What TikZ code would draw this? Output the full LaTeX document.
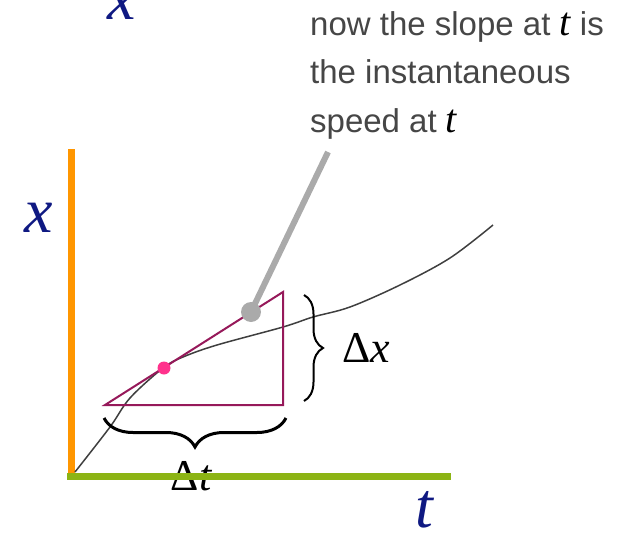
\documentclass[tikz,border=0pt]{standalone}
\usepackage{fontspec}
\setmainfont{Liberation Sans}
\newfontfamily\timesf{Liberation Serif}
\usetikzlibrary{decorations.pathreplacing}
\definecolor{axisorange}{RGB}{255,150,0}
\definecolor{axisgreen}{RGB}{140,180,20}
\definecolor{axisnavy}{RGB}{15,25,130}
\definecolor{trimag}{RGB}{150,25,90}
\definecolor{dotpink}{RGB}{255,50,140}
\definecolor{notegray}{RGB}{70,70,70}
\definecolor{stickgray}{RGB}{170,170,170}
\tikzset{axislabel/.style={color=axisnavy,font=\fontsize{64}{64}\timesf\itshape,inner sep=0pt},
	deltalabel/.style={font=\fontsize{44}{44}\timesf,inner sep=0pt},
	bracebox/.style={decorate,line width=2pt}}
\newcommand{\slopet}{{\timesf\itshape\color{black}\fontsize{40}{40}\selectfont t}}

\begin{document}
\begin{tikzpicture}[x=1pt,y=-1pt]
				\useasboundingbox (0,0) rectangle (633,533);
				\node[axislabel,anchor=base] (xtop) at (122,19) {x};
				\node[axislabel,anchor=base] (xleft) at (39,232) {x};
				\node[axislabel,anchor=base] (tlabel) at (424,527) {t};
				\node[deltalabel,anchor=base] (dt) at (191,490) {Δ\itshape t};
				\draw[line width=7pt,color=axisorange] (71.5,149) -- (71.5,480);
				\draw[line width=7pt,color=axisgreen] (67,476.5) -- (451,476.5);
				\draw[line width=1.5pt,color=notegray!90!black] plot[smooth,tension=0.55] coordinates {(75,472) (110,427) (130,398) (163,368) (183,357) (217,345) (283,327) (313,317) (350,307) (400,285) (450,258) (493,225)};
				\draw[line width=2pt,color=trimag,line join=miter] (105,405) -- (283,405) -- (283,292) -- cycle;
				\fill[dotpink] (164,368) circle(6.5pt);
				\coordinate (stick) at (328,152);
				\fill[stickgray] (251,312) circle(10pt);
				\coordinate (knob) at (251,312);
				\draw[line width=6pt,color=stickgray] (knob) -- (stick);
				\draw[bracebox,decoration={brace,amplitude=19pt}] (304,295) -- (304,401);
				\node[deltalabel,anchor=base] (dx) at (366,362) {Δ\itshape x};
				\draw[bracebox,line width=3pt,decoration={brace,amplitude=29pt}] (286,418) -- (104,418);
				\node[color=notegray,font=\fontsize{33}{48.5}\selectfont,anchor=base west,align=left,inner sep=0pt] (note) at (310,132)
					{now the slope at \slopet{} is\\the instantaneous\\speed at \slopet};
			\end{tikzpicture}
\end{document}
